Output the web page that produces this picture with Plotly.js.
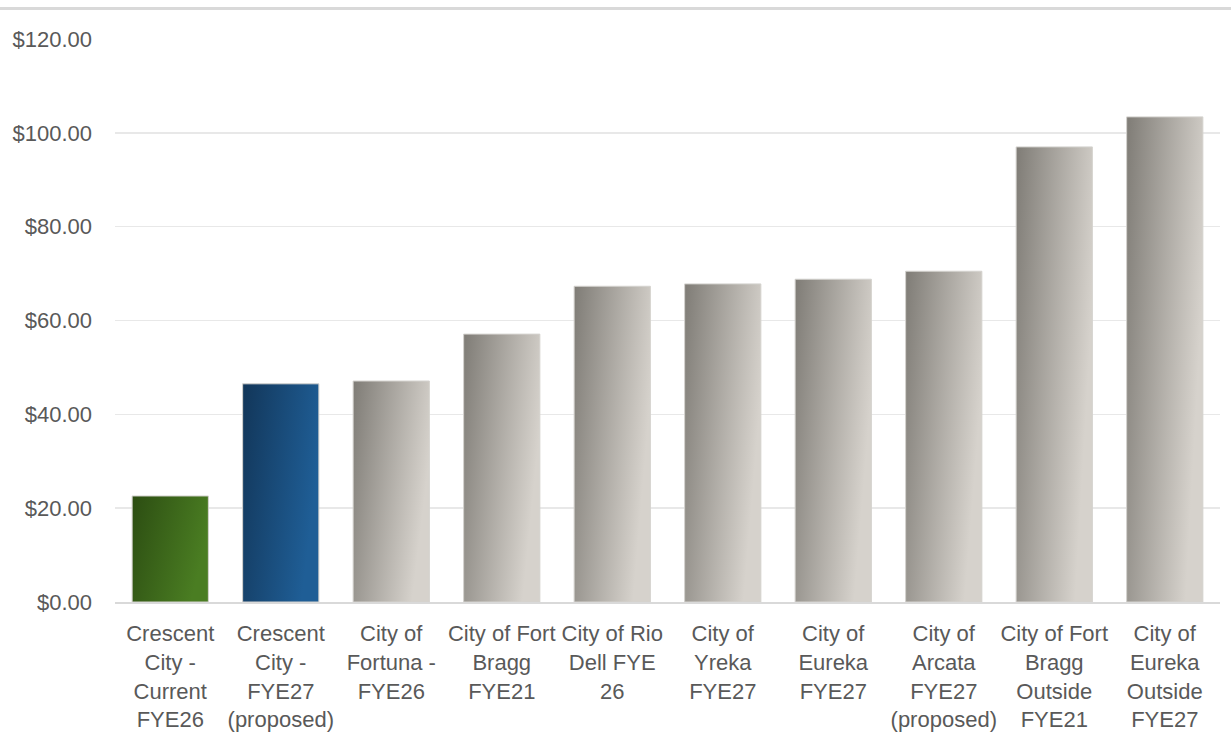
<!DOCTYPE html>
<html>
<head>
<meta charset="utf-8">
<script src="https://cdn.plot.ly/plotly-3.0.1.min.js"></script>
<style>
html,body{margin:0;padding:0;background:#fff;}
#chart{width:1231px;height:739px;}
</style>
</head>
<body>
<div id="chart"></div>
<script>
const categories = [
  "Crescent<br>City -<br>Current<br>FYE26",
  "Crescent<br>City -<br>FYE27<br>(proposed)",
  "City of<br>Fortuna -<br>FYE26",
  "City of Fort<br>Bragg<br>FYE21",
  "City of Rio<br>Dell FYE<br>26",
  "City of<br>Yreka<br>FYE27",
  "City of<br>Eureka<br>FYE27",
  "City of<br>Arcata<br>FYE27<br>(proposed)",
  "City of Fort<br>Bragg<br>Outside<br>FYE21",
  "City of<br>Eureka<br>Outside<br>FYE27"
];
const rates = [22.6, 46.5, 47.1, 57.1, 67.3, 67.8, 68.8, 70.5, 97.0, 103.4];
const barColors = ["#3c6a1c", "#19507f", "#a5a29b", "#a5a29b", "#a5a29b", "#a5a29b", "#a5a29b", "#a5a29b", "#a5a29b", "#a5a29b"];
const tickVals = [0, 20, 40, 60, 80, 100, 120];
const tickText = ["$0.00", "$20.00", "$40.00", "$60.00", "$80.00", "$100.00", "$120.00"];

const trace = {
  type: "bar",
  x: categories,
  y: rates,
  marker: {color: barColors, line: {color: "#d4d2ce", width: 1}},
  hoverinfo: "skip"
};

const layout = {
  width: 1231, height: 739,
  margin: {l: 115, r: 11, t: 39, b: 137},
  paper_bgcolor: "#fff", plot_bgcolor: "#fff",
  bargap: 0.31,
  showlegend: false,
  xaxis: {
    type: "category",
    tickfont: {family: "Liberation Sans Narrow, Arial Narrow, sans-serif", size: 22, color: "#595959"},
    showgrid: false, showline: true, linecolor: "#d9d9d9", linewidth: 2,
    ticks: "", ticklen: 0, ticklabelstandoff: 11, automargin: false
  },
  yaxis: {
    range: [0, 120],
    tickvals: tickVals, ticktext: tickText,
    tickfont: {family: "Liberation Sans, Arial, sans-serif", size: 22, color: "#595959"},
    showgrid: true, gridcolor: "#e8e8e8", gridwidth: 1.5,
    zeroline: false, showline: false, ticks: "", ticklabelstandoff: 22, automargin: false
  },
  shapes: [{
    type: "line", xref: "paper", yref: "paper",
    x0: -0.2, x1: 1.2, y0: 1.054, y1: 1.054,
    line: {color: "#d9d9d9", width: 3}
  }]
};

Plotly.newPlot("chart", [trace], layout, {displayModeBar: false, staticPlot: true}).then(function(gd){
  const svg = gd.querySelector("svg.main-svg");
  const ns = "http://www.w3.org/2000/svg";
  let defs = svg.querySelector("defs");
  if (!defs) { defs = document.createElementNS(ns, "defs"); svg.insertBefore(defs, svg.firstChild); }
  const grads = {
    g0: ["#2c4d12", "#4a7d22"],
    g1: ["#123659", "#1f5e96"],
    g2: ["#7f7c76", "#d6d2cc"]
  };
  Object.keys(grads).forEach(function(id){
    const lg = document.createElementNS(ns, "linearGradient");
    lg.setAttribute("id", id);
    lg.setAttribute("x1", "0"); lg.setAttribute("y1", "0");
    lg.setAttribute("x2", "1"); lg.setAttribute("y2", "0.35");
    const s1 = document.createElementNS(ns, "stop");
    s1.setAttribute("offset", "0"); s1.setAttribute("stop-color", grads[id][0]);
    const s2 = document.createElementNS(ns, "stop");
    s2.setAttribute("offset", "1"); s2.setAttribute("stop-color", grads[id][1]);
    lg.appendChild(s1); lg.appendChild(s2);
    defs.appendChild(lg);
  });
  const paths = gd.querySelectorAll(".bars .point path");
  paths.forEach(function(p, i){
    const id = i === 0 ? "g0" : (i === 1 ? "g1" : "g2");
    p.style.fill = "url(#" + id + ")";
  });
});
</script>
</body>
</html>
